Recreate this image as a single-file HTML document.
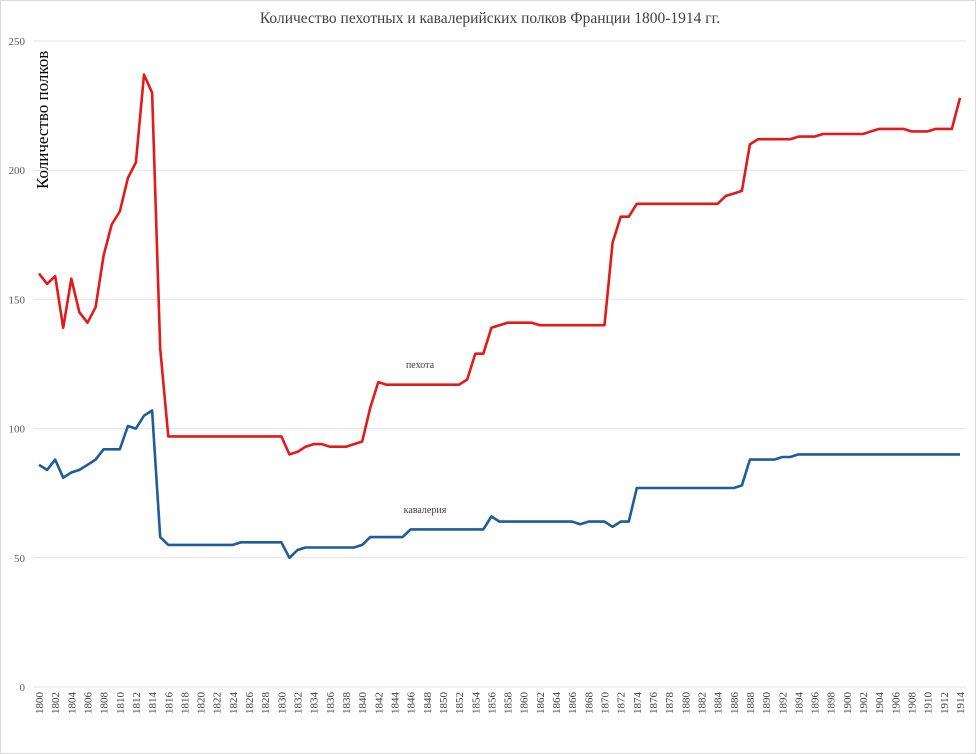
<!DOCTYPE html>
<html><head><meta charset="utf-8"><style>
html,body{margin:0;padding:0;background:#fff}
svg{display:block;font-family:"Liberation Serif",serif}
</style></head><body>
<svg id="c" width="976" height="754" viewBox="0 0 976 754" xmlns="http://www.w3.org/2000/svg">
<rect x="0.5" y="0.5" width="975" height="753" fill="#fff" stroke="#d9d9d9"/>
<text x="490" y="23" font-size="15.5" text-anchor="middle" fill="#404040">Количество пехотных и кавалерийских полков Франции 1800-1914 гг.</text>
<text transform="translate(48,189) rotate(-90)" font-size="17" fill="#000">Количество полков</text>
<text x="420" y="368" font-size="10" text-anchor="middle" fill="#404040">пехота</text>
<text x="425" y="513" font-size="10" text-anchor="middle" fill="#404040">кавалерия</text>
<g id="g"></g>
</svg>
<script>
var ns="http://www.w3.org/2000/svg",g=document.getElementById('g');
function X(y){return 39+(y-1800)*921/114}
function Y(v){return 687-v*646/250}
function el(t,a,txt){var e=document.createElementNS(ns,t);for(var k in a)e.setAttribute(k,a[k]);if(txt!=null)e.textContent=txt;g.appendChild(e);return e}
for(var v=0;v<=250;v+=50){el('line',{x1:33,x2:966,y1:Y(v),y2:Y(v),stroke:'#e3e3e3','stroke-width':1});
el('text',{x:25,y:Y(v)+4,'font-size':11,'text-anchor':'end',fill:'#595959'},v)}
for(var y=1800;y<=1914;y+=2){el('text',{transform:'translate('+(X(y)+4)+',692) rotate(-90)','font-size':11,'text-anchor':'end',fill:'#404040'},y)}
function fill(m){var a=[],last;for(var y=1800;y<=1914;y++){if(m[y]!=null)last=m[y];a.push(last)}return a}
var inf=fill({1800:160,1801:156,1802:159,1803:139,1804:158,1805:145,1806:141,1807:147,1808:167,1809:179,1810:184,1811:197,1812:203,1813:237,1814:230,1815:131,1816:97,1831:90,1832:91,1833:93,1834:94,1836:93,1839:94,1840:95,1841:108,1842:118,1843:117,1853:119,1854:129,1856:139,1857:140,1858:141,1862:140,1871:172,1872:182,1874:187,1885:190,1886:191,1887:192,1888:210,1889:212,1894:213,1897:214,1903:215,1904:216,1908:215,1911:216,1914:228});
var cav=fill({1800:86,1801:84,1802:88,1803:81,1804:83,1805:84,1806:86,1807:88,1808:92,1811:101,1812:100,1813:105,1814:107,1815:58,1816:55,1825:56,1831:50,1832:53,1833:54,1840:55,1841:58,1846:61,1856:66,1857:64,1867:63,1868:64,1871:62,1872:64,1874:77,1887:78,1888:88,1892:89,1894:90});
function line(d,c){var p=d.map(function(v,i){return X(1800+i).toFixed(1)+','+Y(v).toFixed(1)}).join(' ');
el('polyline',{points:p,fill:'none',stroke:c,'stroke-width':2.6,'stroke-linejoin':'round'})}
line(inf,'#e31a1c');line(cav,'#1f5c99');
</script>
</body></html>
